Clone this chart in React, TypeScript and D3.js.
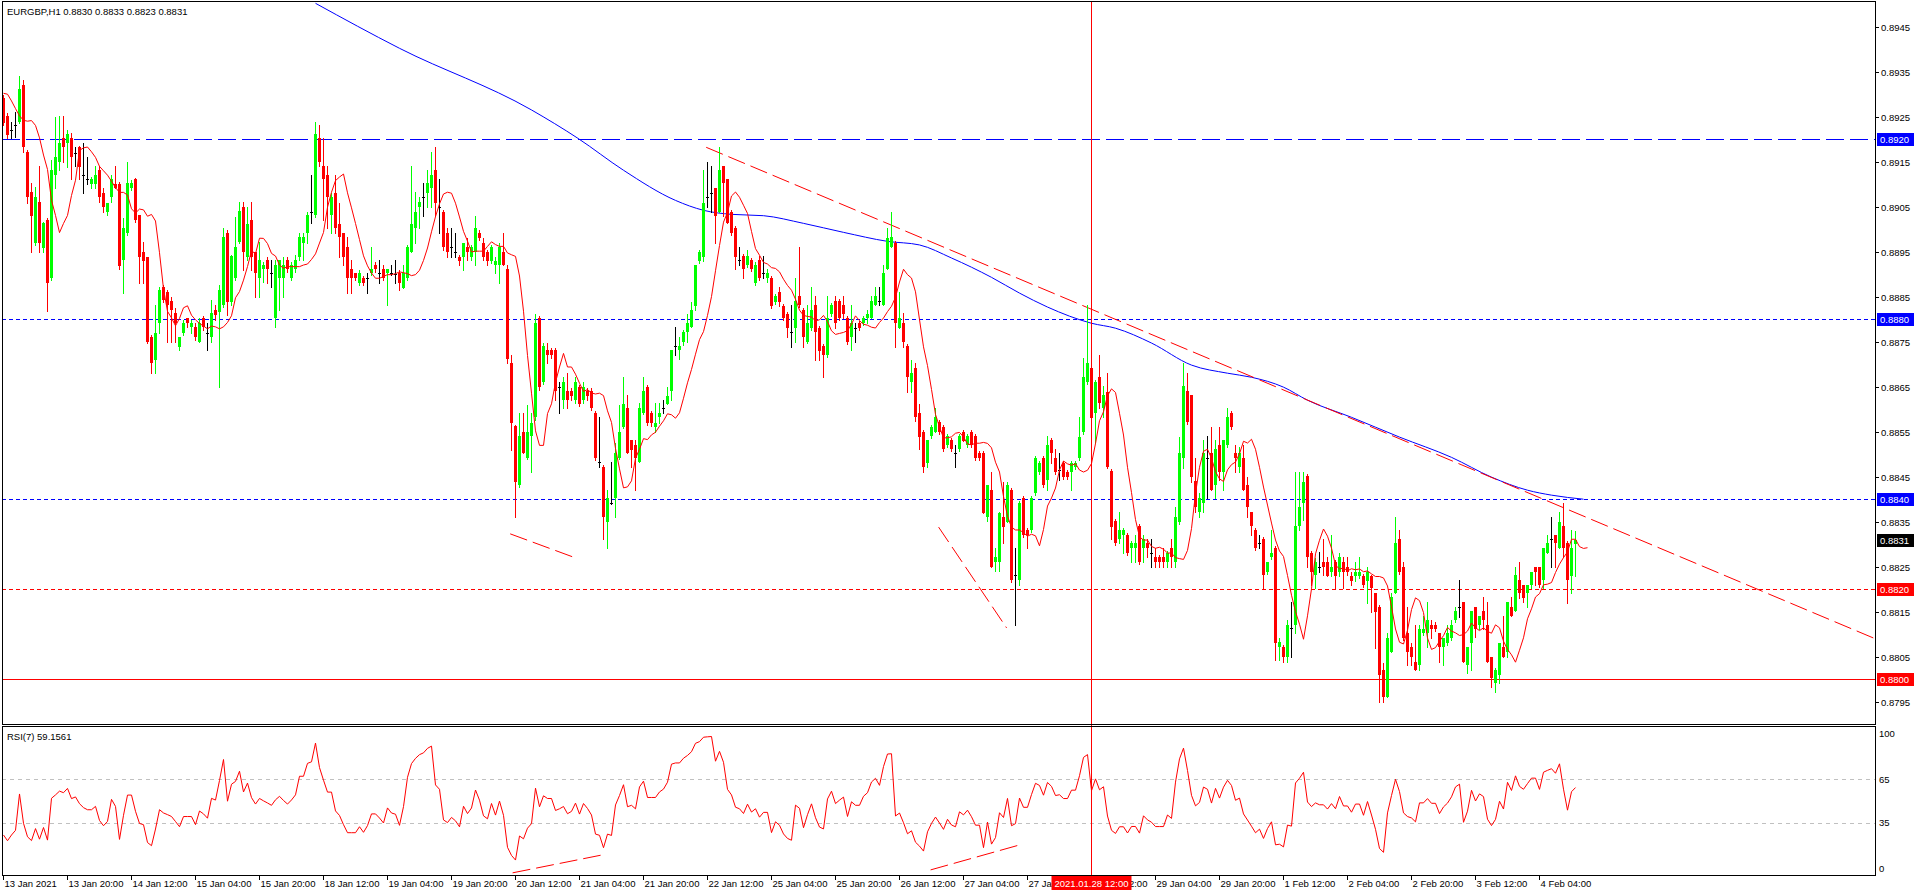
import React, { useEffect } from "react";
import * as d3 from "d3";

// ---------- DATA (EURGBP H1, one value per hourly bar, bar 0 = 13 Jan 2021 04:00) ----------
const OPEN = [
0.89291,0.89251,0.89220,0.89231,0.89238,0.89320,0.89171,0.89082,0.88969,0.89060,
0.88958,0.89020,0.88891,0.89120,0.89149,0.89202,0.89191,0.89202,0.89169,0.89182,
0.89120,0.89111,0.89100,0.89100,0.89131,0.89080,0.89038,0.89071,0.89100,0.89100,
0.88931,0.88991,0.89091,0.89111,0.89031,0.88949,0.88938,0.88760,0.88709,0.88791,
0.88871,0.88860,0.88840,0.88813,0.88738,0.88769,0.88802,0.88782,0.88782,0.88749,
0.88802,0.88769,0.88760,0.88820,0.88816,0.88831,0.88991,0.88838,0.88891,0.88971,
0.89049,0.88938,0.89020,0.88949,0.88891,0.88911,0.88931,0.88902,0.88802,0.88891,
0.88891,0.88931,0.88891,0.88911,0.88938,0.88969,0.88991,0.89038,0.89031,0.89202,
0.89140,0.89120,0.89031,0.89080,0.89011,0.88991,0.88960,0.88911,0.88902,0.88880,
0.88891,0.88891,0.88902,0.88920,0.88902,0.88911,0.88902,0.88902,0.88900,0.88902,
0.88869,0.88891,0.88949,0.89002,0.89049,0.89071,0.89080,0.89091,0.89131,0.89049,
0.89038,0.88991,0.88960,0.88949,0.88938,0.88938,0.88960,0.88938,0.88949,0.88991,
0.88969,0.88949,0.88929,0.88920,0.88920,0.88949,0.88911,0.88702,0.88562,0.88431,
0.88549,0.88491,0.88540,0.88582,0.88802,0.88660,0.88731,0.88731,0.88731,0.88649,
0.88620,0.88640,0.88640,0.88620,0.88649,0.88620,0.88640,0.88640,0.88591,0.88482,
0.88471,0.88349,0.88391,0.88402,0.88491,0.88560,0.88602,0.88531,0.88520,0.88482,
0.88591,0.88649,0.88591,0.88560,0.88582,0.88602,0.88611,0.88640,0.88740,0.88731,
0.88749,0.88771,0.88782,0.88829,0.88929,0.88938,0.89071,0.89080,0.89091,0.89038,
0.89140,0.89111,0.89038,0.89002,0.88931,0.88940,0.88920,0.88931,0.88880,0.88931,
0.88902,0.88891,0.88891,0.88838,0.88860,0.88829,0.88811,0.88771,0.88780,0.88851,
0.88820,0.88749,0.88780,0.88831,0.88780,0.88740,0.88720,0.88811,0.88840,0.88840,
0.88831,0.88802,0.88760,0.88780,0.88791,0.88791,0.88802,0.88802,0.88831,0.88840,
0.88831,0.88911,0.88960,0.88969,0.88780,0.88791,0.88740,0.88660,0.88691,0.88591,
0.88549,0.88480,0.88540,0.88549,0.88571,0.88560,0.88520,0.88531,0.88502,0.88511,
0.88549,0.88520,0.88549,0.88540,0.88502,0.88502,0.88360,0.88420,0.88260,0.88260,
0.88360,0.88349,0.88420,0.88231,0.88220,0.88402,0.88331,0.88331,0.88413,0.88460,
0.88491,0.88442,0.88531,0.88491,0.88464,0.88480,0.88460,0.88460,0.88471,0.88491,
0.88549,0.88660,0.88691,0.88591,0.88671,0.88602,0.88638,0.88462,0.88351,0.88311,
0.88320,0.88320,0.88291,0.88291,0.88340,0.88291,0.88302,0.88280,0.88271,0.88271,
0.88271,0.88260,0.88291,0.88260,0.88349,0.88491,0.88640,0.88631,0.88440,0.88371,
0.88391,0.88491,0.88502,0.88431,0.88520,0.88460,0.88520,0.88591,0.88502,0.88471,
0.88491,0.88431,0.88371,0.88331,0.88302,0.88311,0.88238,0.88271,0.88291,0.88071,
0.88071,0.88049,0.88113,0.88120,0.88340,0.88391,0.88451,0.88280,0.88231,0.88249,
0.88260,0.88260,0.88238,0.88260,0.88238,0.88260,0.88249,0.88229,0.88229,0.88229,
0.88229,0.88218,0.88229,0.88191,0.88160,0.88020,0.87960,0.88060,0.88191,0.88311,
0.88249,0.88102,0.88071,0.88038,0.88031,0.88102,0.88102,0.88120,0.88120,0.88102,
0.88071,0.88080,0.88091,0.88131,0.88160,0.88171,0.88031,0.88080,0.88160,0.88120,
0.88151,0.88120,0.88049,0.87991,0.88009,0.88071,0.88060,0.88160,0.88151,0.88220,
0.88209,0.88191,0.88209,0.88249,0.88249,0.88220,0.88280,0.88311,0.88320,0.88291,
0.88340,0.88302,0.88229,0.88300];

const HIGH = [
0.89298,0.89258,0.89238,0.89260,0.89340,0.89331,0.89176,0.89102,0.89093,0.89140,
0.89016,0.89025,0.89153,0.89249,0.89251,0.89251,0.89220,0.89213,0.89182,0.89185,
0.89191,0.89160,0.89115,0.89140,0.89140,0.89091,0.89058,0.89120,0.89140,0.89105,
0.89025,0.89149,0.89109,0.89113,0.89031,0.88971,0.88938,0.88765,0.88831,0.88871,
0.88876,0.88865,0.88849,0.88825,0.88760,0.88798,0.88802,0.88798,0.88791,0.88802,
0.88807,0.88791,0.88842,0.88831,0.88876,0.89002,0.88998,0.88942,0.89027,0.89060,
0.89060,0.89049,0.89060,0.88949,0.88971,0.88927,0.88938,0.88931,0.88931,0.88931,
0.88938,0.88938,0.88927,0.88942,0.88991,0.88991,0.89038,0.89120,0.89238,0.89231,
0.89202,0.89140,0.89080,0.89120,0.89058,0.88991,0.88982,0.88931,0.88902,0.88909,
0.88896,0.88902,0.88960,0.88927,0.88931,0.88920,0.88911,0.88920,0.88931,0.88909,
0.88920,0.88964,0.89140,0.89082,0.89071,0.89102,0.89131,0.89171,0.89182,0.89111,
0.89042,0.89002,0.89002,0.88991,0.88942,0.88969,0.88980,0.88964,0.89029,0.88998,
0.88980,0.88953,0.88964,0.88938,0.88969,0.88991,0.88920,0.88720,0.88565,0.88591,
0.88591,0.88609,0.88591,0.88811,0.88807,0.88747,0.88747,0.88736,0.88736,0.88660,
0.88671,0.88680,0.88647,0.88671,0.88653,0.88660,0.88647,0.88647,0.88596,0.88582,
0.88476,0.88420,0.88482,0.88525,0.88609,0.88671,0.88631,0.88531,0.88531,0.88613,
0.88671,0.88653,0.88596,0.88613,0.88613,0.88620,0.88649,0.88731,0.88782,0.88760,
0.88776,0.88811,0.88838,0.88920,0.88953,0.89131,0.89149,0.89140,0.89091,0.89182,
0.89140,0.89111,0.89042,0.89007,0.88960,0.88944,0.88953,0.88936,0.88927,0.88940,
0.88940,0.88911,0.88896,0.88856,0.88871,0.88833,0.88816,0.88831,0.88891,0.88960,
0.88825,0.88831,0.88871,0.88851,0.88785,0.88745,0.88851,0.88836,0.88851,0.88845,
0.88851,0.88807,0.88831,0.88791,0.88796,0.88807,0.88820,0.88851,0.88871,0.88871,
0.88920,0.89002,0.89038,0.88973,0.88860,0.88813,0.88745,0.88709,0.88702,0.88611,
0.88553,0.88531,0.88565,0.88602,0.88576,0.88565,0.88545,0.88536,0.88520,0.88545,
0.88553,0.88545,0.88553,0.88545,0.88507,0.88507,0.88431,0.88460,0.88291,0.88371,
0.88438,0.88438,0.88425,0.88291,0.88396,0.88407,0.88336,0.88407,0.88496,0.88485,
0.88496,0.88540,0.88536,0.88511,0.88502,0.88485,0.88464,0.88485,0.88485,0.88582,
0.88713,0.88831,0.88696,0.88665,0.88720,0.88651,0.88680,0.88467,0.88356,0.88371,
0.88336,0.88325,0.88307,0.88320,0.88345,0.88320,0.88311,0.88311,0.88291,0.88276,
0.88291,0.88284,0.88311,0.88382,0.88538,0.88702,0.88680,0.88631,0.88491,0.88413,
0.88531,0.88540,0.88560,0.88531,0.88560,0.88531,0.88602,0.88596,0.88520,0.88516,
0.88520,0.88449,0.88371,0.88336,0.88320,0.88316,0.88260,0.88331,0.88296,0.88091,
0.88076,0.88131,0.88171,0.88460,0.88460,0.88460,0.88456,0.88284,0.88269,0.88282,
0.88311,0.88271,0.88320,0.88265,0.88280,0.88271,0.88271,0.88238,0.88260,0.88271,
0.88234,0.88249,0.88231,0.88191,0.88165,0.88036,0.88102,0.88191,0.88360,0.88331,
0.88260,0.88160,0.88080,0.88120,0.88120,0.88140,0.88171,0.88131,0.88127,0.88102,
0.88091,0.88120,0.88131,0.88160,0.88220,0.88171,0.88071,0.88151,0.88160,0.88140,
0.88182,0.88171,0.88049,0.88025,0.88080,0.88140,0.88171,0.88182,0.88249,0.88260,
0.88209,0.88209,0.88238,0.88249,0.88249,0.88291,0.88320,0.88360,0.88320,0.88371,
0.88391,0.88307,0.88331,0.88330];

const LOW = [
0.89231,0.89202,0.89202,0.89204,0.89236,0.89171,0.89058,0.88949,0.88964,0.88949,
0.88949,0.88818,0.88887,0.89091,0.89131,0.89149,0.89138,0.89111,0.89140,0.89111,
0.89080,0.89100,0.89091,0.89091,0.89060,0.89038,0.89031,0.89060,0.89091,0.88911,
0.88858,0.88987,0.89087,0.89016,0.88880,0.88880,0.88747,0.88680,0.88680,0.88769,
0.88838,0.88749,0.88749,0.88749,0.88731,0.88765,0.88782,0.88769,0.88754,0.88749,
0.88776,0.88731,0.88749,0.88798,0.88649,0.88827,0.88809,0.88831,0.88887,0.88969,
0.88909,0.88931,0.88909,0.88849,0.88849,0.88882,0.88880,0.88871,0.88782,0.88820,
0.88849,0.88905,0.88887,0.88905,0.88931,0.88931,0.88969,0.89013,0.89027,0.89140,
0.89020,0.89002,0.88991,0.88991,0.88938,0.88920,0.88858,0.88858,0.88887,0.88876,
0.88876,0.88858,0.88898,0.88905,0.88880,0.88887,0.88831,0.88898,0.88880,0.88865,
0.88869,0.88887,0.88949,0.88969,0.89002,0.89029,0.89049,0.89049,0.89029,0.88991,
0.88953,0.88938,0.88938,0.88938,0.88920,0.88909,0.88931,0.88931,0.88920,0.88976,
0.88931,0.88920,0.88925,0.88902,0.88880,0.88920,0.88702,0.88509,0.88360,0.88427,
0.88502,0.88489,0.88460,0.88576,0.88642,0.88656,0.88702,0.88713,0.88620,0.88591,
0.88602,0.88602,0.88620,0.88613,0.88607,0.88613,0.88620,0.88598,0.88487,0.88471,
0.88311,0.88291,0.88389,0.88360,0.88489,0.88558,0.88502,0.88471,0.88420,0.88482,
0.88589,0.88565,0.88562,0.88549,0.88569,0.88591,0.88611,0.88620,0.88720,0.88711,
0.88742,0.88749,0.88782,0.88820,0.88925,0.88929,0.89049,0.89038,0.88969,0.89038,
0.89029,0.89013,0.88987,0.88911,0.88920,0.88891,0.88916,0.88907,0.88876,0.88887,
0.88891,0.88882,0.88825,0.88833,0.88829,0.88798,0.88760,0.88738,0.88749,0.88827,
0.88738,0.88747,0.88776,0.88709,0.88709,0.88671,0.88716,0.88807,0.88780,0.88798,
0.88802,0.88745,0.88731,0.88749,0.88776,0.88787,0.88791,0.88802,0.88831,0.88831,
0.88831,0.88911,0.88960,0.88738,0.88780,0.88738,0.88638,0.88638,0.88573,0.88511,
0.88460,0.88471,0.88536,0.88549,0.88545,0.88507,0.88516,0.88507,0.88471,0.88507,
0.88529,0.88516,0.88516,0.88487,0.88487,0.88369,0.88351,0.88249,0.88240,0.88240,
0.88302,0.88349,0.88216,0.88120,0.88209,0.88316,0.88291,0.88327,0.88409,0.88456,
0.88427,0.88420,0.88480,0.88456,0.88442,0.88445,0.88445,0.88420,0.88467,0.88487,
0.88545,0.88656,0.88525,0.88525,0.88602,0.88582,0.88469,0.88311,0.88298,0.88302,
0.88280,0.88276,0.88260,0.88260,0.88256,0.88260,0.88271,0.88249,0.88249,0.88249,
0.88249,0.88249,0.88249,0.88249,0.88345,0.88469,0.88567,0.88438,0.88371,0.88360,
0.88371,0.88402,0.88420,0.88402,0.88442,0.88420,0.88516,0.88556,0.88460,0.88460,
0.88420,0.88360,0.88320,0.88287,0.88291,0.88202,0.88234,0.88267,0.88042,0.88042,
0.88038,0.88038,0.88049,0.88102,0.88331,0.88353,0.88249,0.88209,0.88202,0.88238,
0.88231,0.88229,0.88229,0.88202,0.88229,0.88202,0.88231,0.88209,0.88218,0.88225,
0.88205,0.88169,0.88149,0.88069,0.87949,0.87949,0.87960,0.88060,0.88191,0.88234,
0.88087,0.88031,0.88031,0.88020,0.88020,0.88098,0.88071,0.88091,0.88107,0.88038,
0.88031,0.88076,0.88087,0.88127,0.88138,0.88038,0.88013,0.88020,0.88093,0.88111,
0.88111,0.88038,0.87982,0.87971,0.87991,0.88049,0.88049,0.88140,0.88151,0.88180,
0.88171,0.88160,0.88202,0.88209,0.88205,0.88202,0.88280,0.88249,0.88249,0.88291,
0.88271,0.88169,0.88191,0.88230];

const CLOSE = [
0.89236,0.89209,0.89220,0.89231,0.89311,0.89182,0.89071,0.89029,0.89071,0.88969,
0.89013,0.88880,0.89131,0.89160,0.89191,0.89182,0.89211,0.89160,0.89169,0.89138,
0.89120,0.89111,0.89111,0.89120,0.89071,0.89049,0.89058,0.89111,0.89091,0.88918,
0.89002,0.89102,0.89102,0.89020,0.88938,0.88929,0.88749,0.88702,0.88769,0.88865,
0.88842,0.88831,0.88820,0.88791,0.88760,0.88791,0.88791,0.88791,0.88760,0.88791,
0.88782,0.88769,0.88813,0.88809,0.88865,0.88982,0.88838,0.88940,0.88960,0.89040,
0.88949,0.89011,0.88938,0.88902,0.88931,0.88920,0.88911,0.88902,0.88920,0.88931,
0.88920,0.88911,0.88920,0.88931,0.88982,0.88982,0.89031,0.89038,0.89211,0.89149,
0.89111,0.89071,0.89071,0.89002,0.88982,0.88938,0.88891,0.88891,0.88891,0.88902,
0.88880,0.88891,0.88911,0.88911,0.88902,0.88891,0.88911,0.88902,0.88900,0.88880,
0.88902,0.88960,0.89011,0.89038,0.89060,0.89071,0.89102,0.89120,0.89058,0.89049,
0.88960,0.88949,0.88960,0.88949,0.88929,0.88969,0.88949,0.88960,0.89002,0.88980,
0.88938,0.88929,0.88960,0.88929,0.88960,0.88920,0.88711,0.88569,0.88438,0.88540,
0.88502,0.88549,0.88569,0.88791,0.88649,0.88740,0.88720,0.88720,0.88640,0.88649,
0.88660,0.88620,0.88629,0.88660,0.88611,0.88649,0.88629,0.88602,0.88491,0.88482,
0.88360,0.88402,0.88391,0.88502,0.88549,0.88611,0.88502,0.88509,0.88491,0.88602,
0.88640,0.88569,0.88569,0.88569,0.88591,0.88602,0.88629,0.88731,0.88740,0.88740,
0.88771,0.88791,0.88820,0.88920,0.88949,0.89058,0.89071,0.89080,0.89029,0.89131,
0.89102,0.89013,0.88991,0.88938,0.88931,0.88911,0.88940,0.88911,0.88920,0.88891,
0.88902,0.88902,0.88829,0.88851,0.88838,0.88802,0.88780,0.88771,0.88840,0.88831,
0.88760,0.88791,0.88820,0.88771,0.88729,0.88720,0.88802,0.88831,0.88791,0.88802,
0.88811,0.88749,0.88791,0.88780,0.88780,0.88802,0.88811,0.88840,0.88851,0.88840,
0.88902,0.88980,0.88982,0.88791,0.88802,0.88749,0.88671,0.88680,0.88582,0.88538,
0.88471,0.88531,0.88560,0.88582,0.88549,0.88511,0.88540,0.88511,0.88502,0.88540,
0.88529,0.88540,0.88520,0.88491,0.88491,0.88369,0.88431,0.88249,0.88271,0.88369,
0.88338,0.88431,0.88220,0.88231,0.88391,0.88320,0.88320,0.88402,0.88491,0.88480,
0.88431,0.88520,0.88502,0.88460,0.88464,0.88449,0.88449,0.88480,0.88480,0.88538,
0.88671,0.88702,0.88580,0.88660,0.88613,0.88631,0.88471,0.88338,0.88302,0.88331,
0.88331,0.88280,0.88302,0.88302,0.88260,0.88311,0.88291,0.88280,0.88260,0.88260,
0.88260,0.88280,0.88271,0.88360,0.88502,0.88651,0.88571,0.88449,0.88382,0.88402,
0.88502,0.88491,0.88420,0.88511,0.88460,0.88531,0.88582,0.88560,0.88491,0.88502,
0.88420,0.88382,0.88340,0.88291,0.88302,0.88231,0.88260,0.88280,0.88080,0.88082,
0.88049,0.88120,0.88113,0.88340,0.88382,0.88438,0.88271,0.88238,0.88260,0.88249,
0.88249,0.88229,0.88249,0.88229,0.88271,0.88238,0.88238,0.88218,0.88238,0.88238,
0.88209,0.88238,0.88202,0.88149,0.88009,0.87960,0.88091,0.88182,0.88302,0.88238,
0.88091,0.88060,0.88049,0.88020,0.88111,0.88111,0.88131,0.88111,0.88111,0.88071,
0.88091,0.88102,0.88120,0.88151,0.88160,0.88038,0.88071,0.88151,0.88111,0.88140,
0.88131,0.88038,0.88002,0.88020,0.88080,0.88049,0.88171,0.88140,0.88231,0.88191,
0.88180,0.88209,0.88238,0.88238,0.88209,0.88291,0.88302,0.88311,0.88302,0.88349,
0.88291,0.88220,0.88291,0.88310];

// red moving average (SMA 5, shift 3): values for the first bars
const RED_MA_LEAD = [0.89302, 0.89300, 0.89285, 0.89268, 0.89252, 0.89242, 0.89240];
const MA_PERIOD = 5;
const MA_SHIFT = 3;
// RSI(7): values for the first bars (history before the window)
const RSI_LEAD = [26.8, 22.9, 26.8, 30.0, 54.8, 34.8, 25.6];
const RSI_PERIOD = 7;

// blue long moving average
const BLUE_MA_BARS = [78, 99, 132, 143.6, 155, 168, 175, 182, 190, 200, 210, 221, 229, 237, 247, 254, 261, 272, 278, 287, 297, 306, 312, 320, 326, 337, 349, 362, 372, 381, 387, 395];
const BLUE_MA_VALUES = [0.89502, 0.89402, 0.89265, 0.89202, 0.89131, 0.89064, 0.89042, 0.89033, 0.89030, 0.89013, 0.88993, 0.88973, 0.88965, 0.88936, 0.88893, 0.88858, 0.88827, 0.88791, 0.88780, 0.88747, 0.88698, 0.88680, 0.88671, 0.88649, 0.88620, 0.88582, 0.88538, 0.88493, 0.88449, 0.88420, 0.88409, 0.88400];

const PRICE_TICKS = [0.8945, 0.8935, 0.8925, 0.8915, 0.8905, 0.8895, 0.8885, 0.8875, 0.8865, 0.8855, 0.8845, 0.8835, 0.8825, 0.8815, 0.8805, 0.8795];
const RSI_TICKS = [100, 65, 35, 0];
const RSI_LEVELS = [65, 35];
const TIME_LABELS = ["13 Jan 2021", "13 Jan 20:00", "14 Jan 12:00", "15 Jan 04:00", "15 Jan 20:00", "18 Jan 12:00", "19 Jan 04:00", "19 Jan 20:00", "20 Jan 12:00", "21 Jan 04:00", "21 Jan 20:00", "22 Jan 12:00", "25 Jan 04:00", "25 Jan 20:00", "26 Jan 12:00", "27 Jan 04:00", "27 Jan 20:00", "28 Jan 12:00", "29 Jan 04:00", "29 Jan 20:00", "1 Feb 12:00", "2 Feb 04:00", "2 Feb 20:00", "3 Feb 12:00", "4 Feb 04:00"];
const TIME_LABEL_STEP = 16;

const H_LEVELS = [0.8920, 0.8880, 0.8840, 0.8820, 0.8800];
const CURRENT_PRICE = 0.8831;
const CROSS_BAR = 272;
const CROSS_LABEL = "2021.01.28 12:00";
const TITLE = "EURGBP,H1  0.8830 0.8833 0.8823 0.8831";
const RSI_TITLE = "RSI(7) 59.1561";

const TREND_BARS = [175.8, 384];
const TREND_PRICES = [0.89182, 0.88404];
const DIV_MAIN = [
  { bars: [126.8, 143.3], prices: [0.88323, 0.88269] },
  { bars: [233.9, 250.9], prices: [0.88338, 0.88114] },
];
const DIV_RSI = [
  { bars: [127.4, 149.4], values: [1, 13] },
  { bars: [231.9, 254.1], values: [3, 20] },
];

// ---------- STYLE ----------
const H_STYLE = [
  { color: "#0000FF", dash: "18,6" },
  { color: "#0000FF", dash: "4,3" },
  { color: "#0000FF", dash: "4,3" },
  { color: "#FF0000", dash: "4,3" },
  { color: "#FF0000", dash: "" },
];
const FONT = "'Liberation Sans', Arial, sans-serif";
const BULL = "#00FF00";
const BEAR = "#FF0000";

export default function App() {
  useEffect(() => {
    document.body.style.margin = "0";
  }, []);

  const n = CLOSE.length;
  const L = 2, R = 1875, MT = 1, MB = 724, RT = 726, RB = 875;
  const x = d3.scaleLinear().domain([0, 1]).range([3, 7]);
  const y = d3.scaleLinear().domain([0.8945, 0.8795]).range([26.7, 701.7]);
  const yr = d3.scaleLinear().domain([0, 100]).range([874.3, 727.7]);
  const fmt = d3.format(".4f");

  // red MA
  const maPts: [number, number][] = RED_MA_LEAD.map((v, i) => [i, v]);
  for (let i = MA_PERIOD - 1; i < n; i++) {
    const s = d3.mean(CLOSE.slice(i - MA_PERIOD + 1, i + 1)) as number;
    maPts.push([i + MA_SHIFT, s]);
  }

  // RSI (Wilder), continuing from the last lead value
  const rsiPts: [number, number][] = RSI_LEAD.map((v, i) => [i, v]);
  const k0 = RSI_LEAD.length - 1;
  const absMean = d3.mean(d3.range(1, k0 + 1).map((i) => Math.abs(CLOSE[i] - CLOSE[i - 1]))) as number;
  const rs0 = RSI_LEAD[k0] / (100 - RSI_LEAD[k0]);
  let ag = (absMean * rs0) / (1 + rs0);
  let al = absMean / (1 + rs0);
  for (let i = k0 + 1; i < n; i++) {
    const d = CLOSE[i] - CLOSE[i - 1];
    const g = d > 0 ? d : 0;
    const l = d < 0 ? -d : 0;
    ag = (ag * (RSI_PERIOD - 1) + g) / RSI_PERIOD;
    al = (al * (RSI_PERIOD - 1) + l) / RSI_PERIOD;
    const v = al === 0 ? 100 : 100 - 100 / (1 + ag / al);
    rsiPts.push([i, v]);
  }

  const priceLine = d3.line<[number, number]>().x((d) => x(d[0]) + 0.5).y((d) => y(d[1]));
  const rsiLine = d3.line<[number, number]>().x((d) => x(d[0]) + 0.5).y((d) => yr(d[1]));
  const blueLine = d3
    .line<[number, number]>()
    .x((d) => x(d[0]) + 0.5)
    .y((d) => y(d[1]))
    .curve(d3.curveMonotoneX);
  const bluePts: [number, number][] = BLUE_MA_BARS.map((b, i) => [b, BLUE_MA_VALUES[i]]);

  const slope = (TREND_PRICES[1] - TREND_PRICES[0]) / (TREND_BARS[1] - TREND_BARS[0]);
  const endBar = x.invert(R);
  const trendEnd = TREND_PRICES[0] + slope * (endBar - TREND_BARS[0]);

  const crossX = Math.round(x(CROSS_BAR)) + 0.5;

  return (
    <svg
      width={1916}
      height={896}
      style={{ position: "absolute", left: 0, top: 0, display: "block" }}
      fontFamily={FONT}
      fontSize={9.5}
    >
      <rect x={0} y={0} width={1916} height={896} fill="#FFFFFF" />
      <defs>
        <clipPath id="clipMain">
          <rect x={L + 1} y={MT + 1} width={R - L - 1} height={MB - MT - 1} />
        </clipPath>
        <clipPath id="clipRsi">
          <rect x={L + 1} y={RT + 1} width={R - L - 1} height={RB - RT - 1} />
        </clipPath>
        <clipPath id="clipLeftOfBox">
          <rect x={0} y={RB} width={crossX - 40} height={896 - RB} />
        </clipPath>
        <clipPath id="clipRightOfBox">
          <rect x={crossX + 40} y={RB} width={1916 - crossX - 40} height={896 - RB} />
        </clipPath>
      </defs>

      {/* main panel */}
      <g clipPath="url(#clipMain)">
        {H_LEVELS.map((p, i) => (
          <line
            key={"h" + i}
            x1={L}
            x2={R}
            y1={Math.round(y(p)) + 0.5}
            y2={Math.round(y(p)) + 0.5}
            stroke={H_STYLE[i].color}
            strokeWidth={1}
            strokeDasharray={H_STYLE[i].dash || undefined}
            shapeRendering="crispEdges"
          />
        ))}
        <path d={blueLine(bluePts) || ""} fill="none" stroke="#0000FF" strokeWidth={1} />
        <line
          x1={x(TREND_BARS[0])}
          y1={y(TREND_PRICES[0])}
          x2={R}
          y2={y(trendEnd)}
          stroke="#FF0000"
          strokeWidth={1}
          strokeDasharray="18,6"
        />
        {DIV_MAIN.map((dv, i) => (
          <line
            key={"dm" + i}
            x1={x(dv.bars[0])}
            y1={y(dv.prices[0])}
            x2={x(dv.bars[1])}
            y2={y(dv.prices[1])}
            stroke="#FF0000"
            strokeWidth={1}
            strokeDasharray="18,6"
          />
        ))}
        <g shapeRendering="crispEdges">
          {CLOSE.map((c, i) => {
            const o = OPEN[i];
            const col = c > o ? BULL : c < o ? BEAR : "#000000";
            const cx = Math.round(x(i));
            const yh = Math.round(y(HIGH[i]));
            const yl = Math.round(y(LOW[i]));
            const yt = Math.round(y(Math.max(o, c)));
            const yb = Math.round(y(Math.min(o, c)));
            return (
              <g key={"c" + i} fill={col}>
                <rect x={cx} y={yh} width={1} height={Math.max(1, yl - yh + 1)} />
                <rect x={cx - 1} y={yt} width={3} height={Math.max(1, yb - yt)} />
              </g>
            );
          })}
        </g>
        <path d={priceLine(maPts) || ""} fill="none" stroke="#FF0000" strokeWidth={1} />
      </g>

      {/* rsi panel */}
      <g clipPath="url(#clipRsi)">
        {RSI_LEVELS.map((v) => (
          <line
            key={"rl" + v}
            x1={L}
            x2={R}
            y1={Math.round(yr(v)) + 0.5}
            y2={Math.round(yr(v)) + 0.5}
            stroke="#C0C0C0"
            strokeWidth={1}
            strokeDasharray="4,4"
            shapeRendering="crispEdges"
          />
        ))}
        <path d={rsiLine(rsiPts) || ""} fill="none" stroke="#FF0000" strokeWidth={1} />
        {DIV_RSI.map((dv, i) => (
          <line
            key={"dr" + i}
            x1={x(dv.bars[0])}
            y1={yr(dv.values[0])}
            x2={x(dv.bars[1])}
            y2={yr(dv.values[1])}
            stroke="#FF0000"
            strokeWidth={1}
            strokeDasharray="18,6"
          />
        ))}
      </g>

      {/* crosshair vertical */}
      <line x1={crossX} x2={crossX} y1={MT} y2={RB + 2} stroke="#FF0000" strokeWidth={1} shapeRendering="crispEdges" />

      {/* frames */}
      <g fill="none" stroke="#000000" strokeWidth={1} shapeRendering="crispEdges">
        <rect x={L + 0.5} y={MT + 0.5} width={R - L} height={MB - MT} />
        <rect x={L + 0.5} y={RT + 0.5} width={R - L} height={RB - RT} />
      </g>

      {/* titles */}
      <text x={7} y={14.5} fill="#000000">{TITLE}</text>
      <text x={7} y={739.5} fill="#000000">{RSI_TITLE}</text>

      {/* price axis */}
      {PRICE_TICKS.map((p) => {
        const yy = Math.round(y(p)) + 0.5;
        return (
          <g key={"pt" + p}>
            <line x1={R} x2={R + 4} y1={yy} y2={yy} stroke="#000000" shapeRendering="crispEdges" />
            <text x={R + 6} y={yy + 3.5} fill="#000000">{fmt(p)}</text>
          </g>
        );
      })}
      {H_LEVELS.map((p, i) => {
        const yy = Math.round(y(p));
        return (
          <g key={"hl" + i}>
            <rect x={R + 2} y={yy - 6} width={37} height={13} fill={H_STYLE[i].color} />
            <text x={R + 5} y={yy + 3.5} fill="#FFFFFF">{fmt(p)}</text>
          </g>
        );
      })}
      <g>
        <rect x={R + 2} y={Math.round(y(CURRENT_PRICE)) - 6} width={37} height={13} fill="#000000" />
        <text x={R + 5} y={Math.round(y(CURRENT_PRICE)) + 3.5} fill="#FFFFFF">{fmt(CURRENT_PRICE)}</text>
      </g>

      {/* rsi axis */}
      {RSI_TICKS.map((v) => {
        const yy = Math.min(Math.max(yr(v), RT + 7), RB - 7);
        return (
          <text key={"rt" + v} x={R + 4} y={yy + 3.5} fill="#000000">{String(v)}</text>
        );
      })}

      {/* time axis */}
      {TIME_LABELS.map((t, k) => {
        const tx = Math.round(x(k * TIME_LABEL_STEP)) + 0.5;
        return (
          <g key={"tl" + k}>
            <line x1={tx} x2={tx} y1={RB} y2={RB + 5} stroke="#000000" shapeRendering="crispEdges" />
            <text x={tx + 1} y={887} fill="#000000">{t}</text>
          </g>
        );
      })}
      <rect x={crossX - 40} y={876} width={80} height={14} fill="#FF0000" />
      <text x={crossX} y={887} fill="#FFFFFF" textAnchor="middle">{CROSS_LABEL}</text>
    </svg>
  );
}
